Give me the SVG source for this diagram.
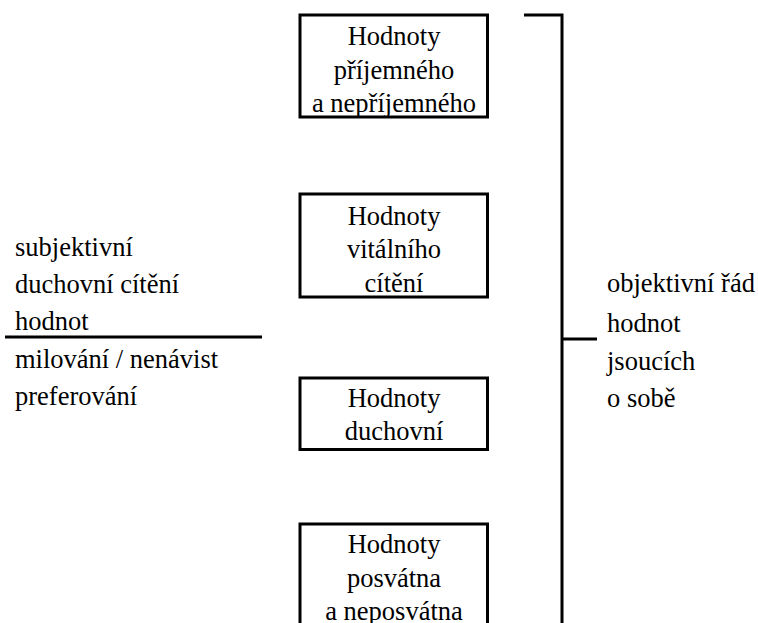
<svg xmlns="http://www.w3.org/2000/svg" width="758" height="623" viewBox="0 0 758 623">
<style>
.t{font-family:'Liberation Serif','Times New Roman',serif;font-size:26.5px;fill:#000}
.c{text-anchor:middle}
.box{fill:#fff;stroke:#000;stroke-width:3}
.ln{stroke:#000;stroke-width:3;fill:none}
</style>
<rect width="758" height="623" fill="#fff"/>
<g id="connectors">
<path class="ln" d="M524 15H562V640"/>
<path class="ln" d="M562 339H597"/>
<path class="ln" d="M5 337H262" stroke-width="2"/>
</g>
<g id="node1">
<rect class="box" x="300" y="15" width="187.5" height="102"/>
<text class="t c" x="394" y="45">Hodnoty</text>
<text class="t c" x="394" y="79">příjemného</text>
<text class="t c" x="394" y="112">a nepříjemného</text>
</g>
<g id="node2">
<rect class="box" x="300" y="194" width="187.5" height="103"/>
<text class="t c" x="394" y="225">Hodnoty</text>
<text class="t c" x="394" y="258">vitálního</text>
<text class="t c" x="394" y="292">cítění</text>
</g>
<g id="node3">
<rect class="box" x="300" y="378" width="187.5" height="71.5"/>
<text class="t c" x="394" y="407">Hodnoty</text>
<text class="t c" x="394" y="440">duchovní</text>
</g>
<g id="node4">
<rect class="box" x="300" y="524" width="187.5" height="120"/>
<text class="t c" x="394" y="553">Hodnoty</text>
<text class="t c" x="394" y="587">posvátna</text>
<text class="t c" x="394" y="620">a neposvátna</text>
</g>
<g id="left-label">
<text class="t" x="15" y="256">subjektivní</text>
<text class="t" x="15" y="293">duchovní cítění</text>
<text class="t" x="15" y="330">hodnot</text>
<text class="t" x="15" y="368">milování / nenávist</text>
<text class="t" x="15" y="405">preferování</text>
</g>
<g id="right-label">
<text class="t" x="607" y="292">objektivní řád</text>
<text class="t" x="607" y="332">hodnot</text>
<text class="t" x="607" y="370">jsoucích</text>
<text class="t" x="607" y="407">o sobě</text>
</g>
</svg>
